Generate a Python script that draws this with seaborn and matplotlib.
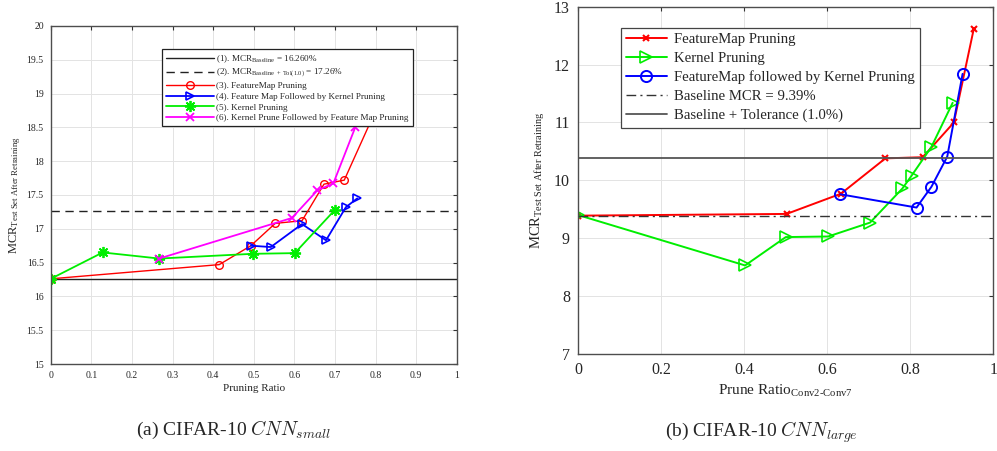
import numpy as np
import pandas as pd
import matplotlib
matplotlib.use("Agg")
import matplotlib.pyplot as plt
import seaborn as sns

# -----------------------------
# Data: (a) CIFAR-10 CNN_small
# -----------------------------
small_baseline = 16.26
small_tol = 17.26

small_fm_x = [0.0, 0.415, 0.493, 0.553, 0.619, 0.673, 0.723, 0.81]
small_fm_y = [16.26, 16.47, 16.75, 17.08, 17.12, 17.66, 17.72, 18.88]

small_fmk_x = [0.493, 0.542, 0.619, 0.678, 0.727, 0.755]
small_fmk_y = [16.75, 16.73, 17.07, 16.83, 17.32, 17.45]

small_k_x = [0.0, 0.128, 0.267, 0.498, 0.601, 0.700]
small_k_y = [16.26, 16.65, 16.56, 16.63, 16.64, 17.28]

small_kfm_x = [0.267, 0.594, 0.657, 0.696, 0.750]
small_kfm_y = [16.56, 17.16, 17.57, 17.67, 18.50]

# -----------------------------
# Data: (b) CIFAR-10 CNN_large
# -----------------------------
large_baseline = 9.39
large_tol = 10.39

large_fm_x = [0.0, 0.502, 0.633, 0.740, 0.830, 0.905, 0.953]
large_fm_y = [9.39, 9.42, 9.77, 10.38, 10.40, 11.00, 12.62]

large_k_x = [0.0, 0.402, 0.500, 0.602, 0.703, 0.781, 0.803, 0.851, 0.902]
large_k_y = [9.40, 8.53, 9.02, 9.03, 9.27, 9.86, 10.08, 10.58, 11.34]

large_fmk_x = [0.631, 0.815, 0.851, 0.889, 0.926]
large_fmk_y = [9.76, 9.53, 9.89, 10.41, 11.84]

# Style
sns.set_theme(style="white")
plt.rcParams["font.family"] = ["Liberation Serif", "DejaVu Serif"]
plt.rcParams["mathtext.fontset"] = "custom"
plt.rcParams["mathtext.rm"] = "Liberation Serif"
plt.rcParams["mathtext.it"] = "Liberation Serif:italic"

fig = plt.figure(figsize=(9.97, 4.51), dpi=100)
ax1 = fig.add_axes([0.0509, 0.1929, 0.4072, 0.7495])
ax2 = fig.add_axes([0.5800, 0.2151, 0.4163, 0.7700])


def series(ax, x, y, color, marker, ms, lw, label, mew=1.0):
    df = pd.DataFrame({"x": x, "y": y})
    sns.lineplot(data=df, x="x", y="y", sort=False, estimator=None, ax=ax,
                 color=color, linewidth=lw, marker=marker, markersize=ms,
                 markerfacecolor="none", markeredgecolor=color,
                 markeredgewidth=mew, label=label)


def style_axes(ax, xticks, yticks, fs, pad):
    ax.set_xlim(0, 1)
    ax.set_xticks(xticks)
    ax.set_yticks(yticks)
    ax.grid(True, color="#e3e3e3", linewidth=0.7)
    ax.set_axisbelow(True)
    ax.tick_params(direction="in", top=True, right=True, length=3,
                   width=0.8, color="#333333", labelsize=fs,
                   labelcolor="#262626", pad=pad)
    for s in ax.spines.values():
        s.set_color("#4d4d4d")
        s.set_linewidth(1.0)


# ==========================================================
# (a) CNN_small
# ==========================================================
ax1.axhline(small_baseline, color="#222222", linewidth=1.0,
            label=r"(1). MCR$_{\mathrm{Baseline}}$ = 16.260%")
ax1.axhline(small_tol, color="#222222", linewidth=1.0, linestyle=(0, (6, 4)),
            label=r"(2). MCR$_{\mathrm{Baseline\ +\ Tol(1.0)}}$ = 17.26%")
series(ax1, small_fm_x, small_fm_y, "red", "o", 5.5, 1.0, "(3). FeatureMap Pruning")
series(ax1, small_fmk_x, small_fmk_y, "blue", ">", 6, 1.3, "(4). Feature Map Followed by Kernel Pruning", 1.2)
series(ax1, small_k_x, small_k_y, "#00ee00", (8, 2, 0), 8, 1.3, "(5). Kernel Pruning", 1.3)
series(ax1, small_kfm_x, small_kfm_y, "magenta", "x", 6, 1.3, "(6). Kernel Prune Followed by Feature Map Pruning", 1.3)

style_axes(ax1, np.arange(0, 1.01, 0.1), np.arange(15, 20.01, 0.5), 7, 5)
ax1.set_ylim(15, 20)
ax1.set_xticklabels(["0", "0.1", "0.2", "0.3", "0.4", "0.5", "0.6", "0.7", "0.8", "0.9", "1"])
ax1.set_yticklabels(["15", "15.5", "16", "16.5", "17", "17.5", "18", "18.5", "19", "19.5", "20"])
ax1.set_xlabel("Pruning Ratio", fontsize=8, labelpad=3)
ax1.set_ylabel(r"MCR$_{\mathrm{Test\ Set\ After\ Retraining}}$", fontsize=9, labelpad=3)

leg1 = ax1.legend(loc="upper left", bbox_to_anchor=(0.275, 0.931), borderaxespad=0,
                  fontsize=6.6, frameon=True, fancybox=False, framealpha=1,
                  edgecolor="#222222", handlelength=5.2, handletextpad=0.3,
                  labelspacing=0.25, borderpad=0.4)
leg1.get_frame().set_linewidth(0.9)
leg1.set_zorder(10)

# ==========================================================
# (b) CNN_large
# ==========================================================
series(ax2, large_fm_x, large_fm_y, "red", "x", 5, 1.4, "FeatureMap Pruning", 1.5)
series(ax2, large_k_x, large_k_y, "#00ee00", ">", 8, 1.4, "Kernel Pruning", 1.2)
series(ax2, large_fmk_x, large_fmk_y, "blue", "o", 8, 1.4, "FeatureMap followed by Kernel Pruning", 1.4)
ax2.axhline(large_baseline, color="#333333", linewidth=1.0, linestyle=(0, (7, 3, 1.5, 3)),
            label="Baseline MCR = 9.39%")
ax2.axhline(large_tol, color="#555555", linewidth=1.3,
            label="Baseline + Tolerance (1.0%)")

style_axes(ax2, [0, 0.2, 0.4, 0.6, 0.8, 1.0], np.arange(7, 13.01, 1), 11.5, 6)
ax2.set_ylim(7, 13)
ax2.set_xticklabels(["0", "0.2", "0.4", "0.6", "0.8", "1"])
ax2.set_yticklabels(["7", "8", "9", "10", "11", "12", "13"])
ax2.set_xlabel(r"Prune Ratio$_{\mathrm{Conv2\text{-}Conv7}}$", fontsize=11, labelpad=3)
ax2.set_ylabel(r"MCR$_{\mathrm{Test\ Set\ After\ Retraining}}$", fontsize=10.5, labelpad=5)

leg2 = ax2.legend(loc="upper left", bbox_to_anchor=(0.102, 0.9395), borderaxespad=0,
                  fontsize=10.6, frameon=True, fancybox=False, framealpha=1,
                  edgecolor="#444444", handlelength=2.8, handletextpad=0.5,
                  labelspacing=0.38, borderpad=0.35)
leg2.get_frame().set_linewidth(0.9)
leg2.set_zorder(10)

# -----------------------------
# Captions
# -----------------------------
fig.text(0.234, 1 - 430 / 451, r"(a) CIFAR-10 $CNN_{small}$", ha="center", va="center",
         fontsize=14, math_fontfamily="cm")
fig.text(0.764, 1 - 432 / 451, r"(b) CIFAR-10 $CNN_{large}$", ha="center", va="center",
         fontsize=14, math_fontfamily="cm")

plt.savefig("out.png", dpi=100)
plt.close()
